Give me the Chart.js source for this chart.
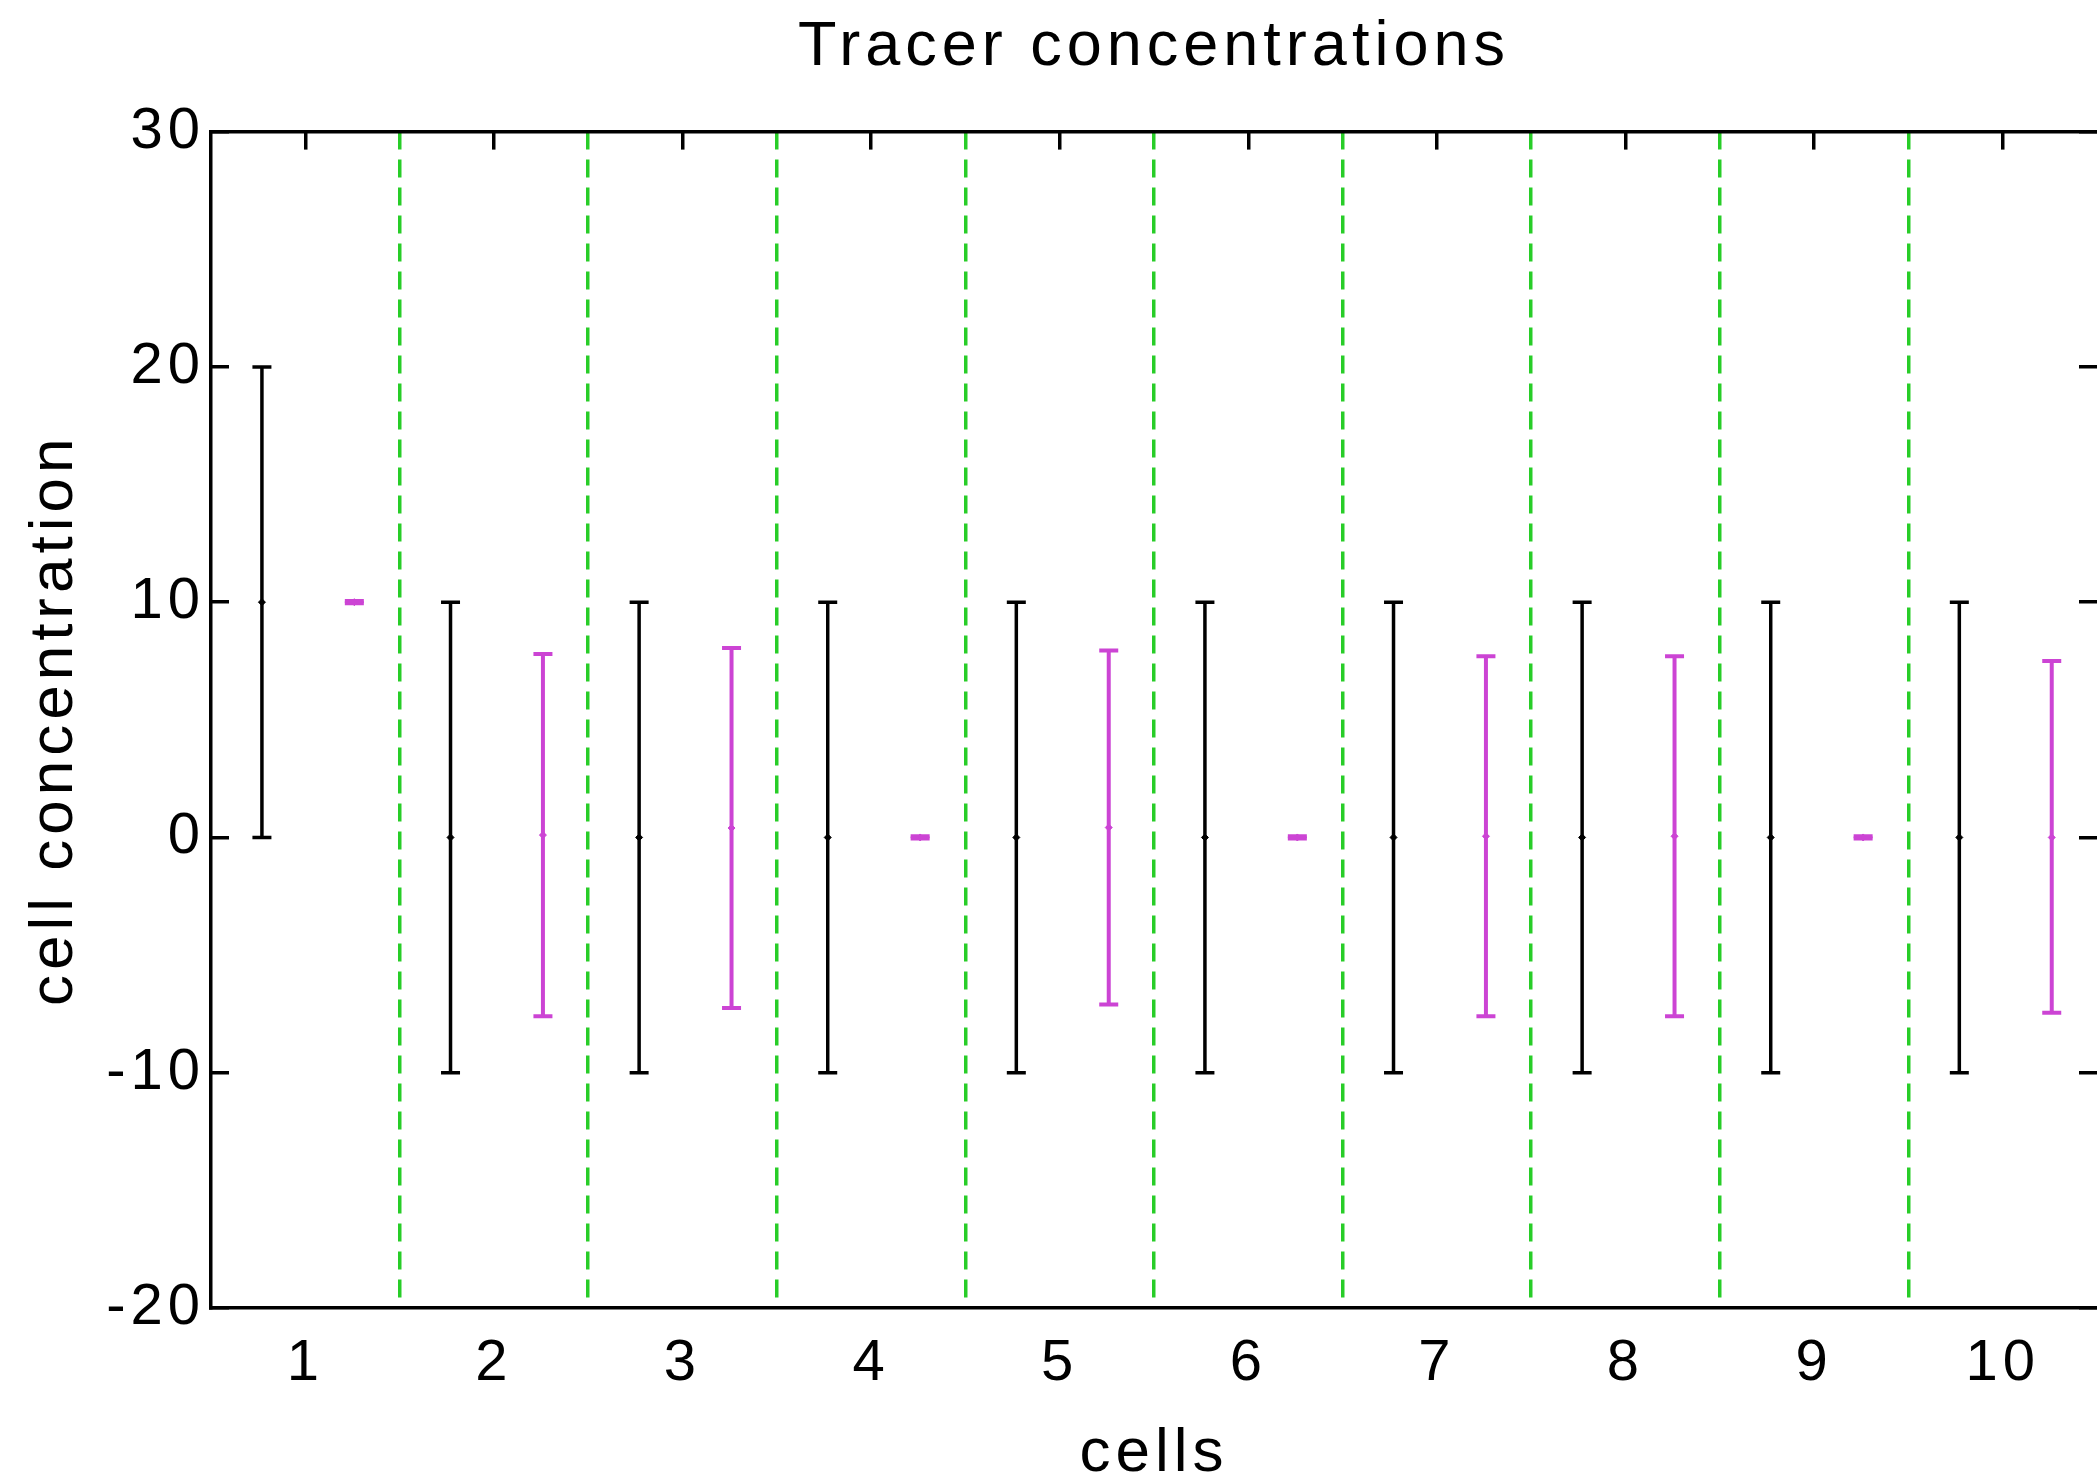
<!DOCTYPE html>
<html>
<head>
<meta charset="utf-8">
<title>Tracer concentrations</title>
<script src="https://cdn.jsdelivr.net/npm/chart.js@4.4.1/dist/chart.umd.min.js"></script>
<style>
  html, body { margin: 0; padding: 0; background: #fff; }
  #wrap { width: 2097px; height: 1477px; position: relative; }
</style>
</head>
<body>
<div id="wrap"><canvas id="tracerChart"></canvas></div>
<script>
// cells on the x axis and the y tick labels
const cells = [1, 2, 3, 4, 5, 6, 7, 8, 9, 10];
const yTicks = [-20, -10, 0, 10, 20, 30];
// boundaries between the cells (green dashed lines)
const cellBorders = [1.5, 2.5, 3.5, 4.5, 5.5, 6.5, 7.5, 8.5, 9.5];

// black error bars
const blackMid = [10, 0, 0, 0, 0, 0, 0, 0, 0, 0];
const blackLow = [0, -10, -10, -10, -10, -10, -10, -10, -10, -10];
const blackHigh = [20, 10, 10, 10, 10, 10, 10, 10, 10, 10];

// magenta error bars
const magentaMid = [10, 0.1, 0.4, 0, 0.42, 0, 0.05, 0.05, 0, 0];
const magentaLow = [9.95, -7.6, -7.25, -0.05, -7.1, -0.05, -7.6, -7.6, -0.05, -7.45];
const magentaHigh = [10.05, 7.8, 8.05, 0.05, 7.95, 0.05, 7.7, 7.7, 0.05, 7.5];

const BLACK = '#000000';
const MAGENTA = 'rgb(204, 68, 212)';
const GREEN = 'rgb(40, 205, 40)';

Chart.defaults.font.family = "'Liberation Sans', Arial, sans-serif";
Chart.defaults.color = '#000';

// one error bar series = stems + caps + centre markers
function errorBars(mid, low, high, offset, color, width) {
    const xs = cells.map(c => c + offset);
    const stems = xs.flatMap((x, i) => [{ x: x, y: low[i] }, { x: x, y: high[i] }, { x: x, y: null }]);
    const caps = xs.flatMap((x, i) => [{ x: x, y: low[i] }, { x: x, y: high[i] }]);
    const centers = xs.map((x, i) => ({ x: x, y: mid[i] }));
    return [
        { data: stems, showLine: true, spanGaps: false, borderColor: color, borderWidth: width, pointRadius: 0 },
        { data: caps, showLine: false, pointStyle: 'line', pointRadius: 9.5, pointBorderWidth: width,
          pointBorderColor: color, pointBackgroundColor: color },
        { data: centers, showLine: false, pointStyle: 'rectRot', pointRadius: 3.5, pointBorderWidth: 1,
          pointBorderColor: color, pointBackgroundColor: color }
    ];
}

const setTicks = values => axis => { axis.ticks = values.map(v => ({ value: v })); };
const fixWidth = w => scale => { scale.width = w; scale.paddingTop = 0; scale.paddingBottom = 0; };
const fixHeight = h => scale => { scale.height = h; scale.paddingLeft = 0; scale.paddingRight = 0; };

// the reference text is a bit wider than Liberation Sans
const letterSpacing = {
    id: 'letterSpacing',
    beforeDraw: chart => { chart.ctx.letterSpacing = '5px'; }
};

const ctx = document.getElementById('tracerChart').getContext('2d');
new Chart(ctx, {
    type: 'scatter',
    data: {
        datasets: [
            ...errorBars(blackMid, blackLow, blackHigh, -0.23, BLACK, 3.5),
            ...errorBars(magentaMid, magentaLow, magentaHigh, 0.26, MAGENTA, 4)
        ]
    },
    options: {
        responsive: true,
        maintainAspectRatio: false,
        animation: false,
        events: [],
        layout: { padding: 0, autoPadding: false },
        plugins: {
            legend: { display: false },
            tooltip: { enabled: false },
            title: {
                display: true,
                text: 'Tracer concentrations',
                fullSize: false,
                color: '#000',
                font: { size: 63, weight: 'normal' },
                padding: { top: 10, bottom: 46 }
            }
        },
        scales: {
            x: {
                type: 'linear', position: 'bottom', min: 0.5, max: 10.5,
                afterBuildTicks: setTicks(cells),
                afterFit: fixHeight(169),
                grid: { drawOnChartArea: false, drawTicks: false },
                border: { color: BLACK, width: 3.5 },
                ticks: { font: { size: 58 }, padding: 21, color: '#000', maxRotation: 0, autoSkip: false },
                title: { display: true, text: 'cells', color: '#000', font: { size: 62, lineHeight: 1 }, padding: { top: 0, bottom: -8 } }
            },
            xTop: {
                type: 'linear', position: 'top', min: 0.5, max: 10.5,
                afterBuildTicks: setTicks(cells),
                afterFit: fixHeight(0),
                grid: { drawOnChartArea: false, drawTicks: true, tickLength: -18, color: BLACK, lineWidth: 3.5 },
                border: { color: BLACK, width: 3.5 },
                ticks: { display: false }
            },
            xCells: {
                type: 'linear', position: 'bottom', min: 0.5, max: 10.5,
                afterBuildTicks: setTicks(cellBorders),
                afterFit: fixHeight(0),
                grid: { drawOnChartArea: true, drawTicks: false, color: GREEN, lineWidth: 3.5 },
                border: { display: false, dash: [18, 10] },
                ticks: { display: false }
            },
            y: {
                type: 'linear', position: 'left', min: -20, max: 30,
                afterBuildTicks: setTicks(yTicks),
                afterFit: fixWidth(211),
                grid: { drawOnChartArea: false, drawTicks: true, tickLength: -18, color: BLACK, lineWidth: 3.5 },
                border: { color: BLACK, width: 3.5 },
                ticks: { font: { size: 58 }, padding: 24, color: '#000' },
                title: { display: true, text: 'cell concentration', color: '#000', font: { size: 62 }, padding: { top: 18, bottom: 0 } }
            },
            yRight: {
                type: 'linear', position: 'right', min: -20, max: 30,
                afterBuildTicks: setTicks(yTicks),
                afterFit: fixWidth(0),
                grid: { drawOnChartArea: false, drawTicks: true, tickLength: -18, color: BLACK, lineWidth: 3.5 },
                border: { display: false },
                ticks: { display: false }
            }
        }
    },
    plugins: [letterSpacing]
});
</script>
</body>
</html>
